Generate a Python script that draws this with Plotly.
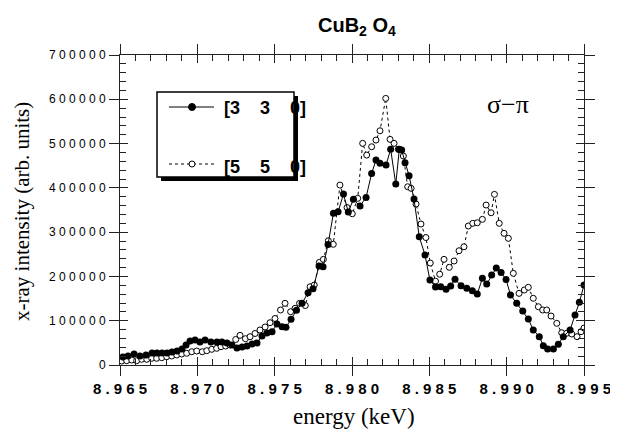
import plotly.graph_objects as go

# ---- data ----
energy_330 = [8.96519, 8.96552, 8.96591, 8.96629, 8.96668, 8.96707, 8.96739, 8.96772, 8.96804, 8.96836,
              8.96869, 8.96901, 8.96927, 8.96953, 8.96985, 8.97017, 8.97050, 8.97088, 8.97127, 8.97159,
              8.97192, 8.97224, 8.97256, 8.97289, 8.97321, 8.97354, 8.97386, 8.97418, 8.97450, 8.97483,
              8.97515, 8.97548, 8.97573, 8.97606, 8.97641, 8.97677, 8.97716, 8.97748, 8.97787, 8.97813,
              8.97845, 8.97880, 8.97910, 8.97945, 8.97976, 8.98009, 8.98052, 8.98091, 8.98127, 8.98155,
              8.98181, 8.98220, 8.98250, 8.98283, 8.98306, 8.98321, 8.98343, 8.98369, 8.98401, 8.98435,
              8.98472, 8.98504, 8.98540, 8.98574, 8.98608, 8.98638, 8.98666, 8.98705, 8.98742, 8.98778,
              8.98810, 8.98843, 8.98871, 8.98903, 8.98933, 8.98964, 8.98996, 8.99025, 8.99065, 8.99104,
              8.99140, 8.99172, 8.99211, 8.99237, 8.99265, 8.99302, 8.99334, 8.99366, 8.99410, 8.99442,
              8.99470, 8.99500]
intensity_330 = [18000, 20300, 24800, 20300, 22600, 27100, 27100, 27100, 27100, 29300,
                 31600, 36100, 45100, 54200, 56400, 51900, 56400, 51900, 51900, 51900,
                 49700, 45100, 38400, 40600, 42900, 47400, 49700, 65500, 72200, 75200,
                 92500, 86500, 85100, 103200, 123500, 139300, 163200, 172200, 223500, 221900,
                 272000, 342700, 346000, 386000, 345400, 374000, 359000, 378500, 432700, 462700,
                 455300, 451500, 486900, 408600, 486900, 485300, 456700, 427300, 374700, 289600,
                 248300, 191900, 176100, 176700, 170900, 178300, 193500, 179000, 173100, 167700,
                 160300, 195700, 182800, 203200, 219000, 208800, 193000, 158000, 139300, 121900,
                 103800, 79000, 63900, 43600, 36100, 36100, 46700, 63900, 79000, 112900,
                 141500, 180600]

energy_550 = [8.96511, 8.96543, 8.96576, 8.96608, 8.96640, 8.96673, 8.96705, 8.96737, 8.96770, 8.96802,
              8.96834, 8.96867, 8.96899, 8.96931, 8.96964, 8.96996, 8.97032, 8.97061, 8.97093, 8.97125,
              8.97153, 8.97183, 8.97211, 8.97248, 8.97276, 8.97311, 8.97341, 8.97373, 8.97405, 8.97438,
              8.97470, 8.97502, 8.97538, 8.97567, 8.97603, 8.97632, 8.97661, 8.97698, 8.97729, 8.97756,
              8.97789, 8.97815, 8.97847, 8.97879, 8.97922, 8.97968, 8.98002, 8.98037, 8.98069, 8.98095,
              8.98127, 8.98155, 8.98181, 8.98218, 8.98246, 8.98272, 8.98299, 8.98332, 8.98360, 8.98382,
              8.98414, 8.98446, 8.98478, 8.98506, 8.98540, 8.98567, 8.98595, 8.98629, 8.98660, 8.98692,
              8.98724, 8.98752, 8.98781, 8.98810, 8.98843, 8.98867, 8.98899, 8.98921, 8.98952, 8.98983,
              8.99011, 8.99043, 8.99080, 8.99114, 8.99140, 8.99172, 8.99205, 8.99233, 8.99259, 8.99287,
              8.99324, 8.99356, 8.99388, 8.99421, 8.99455, 8.99481, 8.99500]
intensity_550 = [9000, 9700, 11300, 9700, 12900, 12900, 15100, 15100, 16500, 18700,
                 20300, 22600, 24800, 26400, 30000, 31600, 30000, 32300, 35400, 37700,
                 41300, 42900, 45100, 57600, 67000, 59400, 63900, 71100, 79000, 85800,
                 95500, 105000, 124200, 139300, 120300, 128000, 139300, 134300, 176700, 180600,
                 231800, 238600, 280600, 272500, 406300, 355500, 341500, 376300, 500400, 474000,
                 492800, 507900, 528900, 602000, 509500, 500400, 486900, 471800, 402500, 398900,
                 363400, 318300, 287800, 230200, 189200, 205000, 238600, 220500, 234800, 258000,
                 267000, 313800, 319900, 321200, 328900, 361200, 343800, 385300, 319900, 297300,
                 286000, 207000, 161800, 169300, 175400, 150600, 131600, 124200, 124200, 110600,
                 94100, 72900, 71600, 70000, 63900, 75200, 83500]

x_ticks = [8.965, 8.970, 8.975, 8.980, 8.985, 8.990, 8.995]
y_ticks = [0, 100000, 200000, 300000, 400000, 500000, 600000, 700000]
x_ticktext = [" ".join(f"{v:.3f}") for v in x_ticks]
y_ticktext = [" ".join(str(v)) for v in y_ticks]
legend_labels = ["[3\u00a0\u00a0\u00a0\u00a03\u00a0\u00a0\u00a0\u00a00]",
                 "[5\u00a0\u00a0\u00a0\u00a05\u00a0\u00a0\u00a0\u00a00]"]

# ---- figure geometry (page places the figure 8 px in from the top-left) ----
OFF = 8
W, H = 618 - OFF, 432 - OFF
L, R, T, B = 120, 584, 55, 365   # plot frame in screen pixels


def px(xp):
    return (xp - L) / (R - L)


def py(yp):
    return (B - yp) / (B - T)


fig = go.Figure()
fig.add_trace(go.Scatter(x=energy_550, y=intensity_550, mode="lines+markers",
                         line=dict(color="black", width=1, dash="dot"),
                         marker=dict(symbol="circle", size=6, color="white",
                                     line=dict(color="black", width=1)),
                         showlegend=False))
fig.add_trace(go.Scatter(x=energy_330, y=intensity_330, mode="lines+markers",
                         line=dict(color="black", width=1),
                         marker=dict(symbol="circle", size=7, color="black"),
                         showlegend=False))
# empty trace to activate the overlay axes carrying inward ticks
fig.add_trace(go.Scatter(x=[None], y=[None], xaxis="x2", yaxis="y2", showlegend=False,
                         mode="markers"))

axis_col = "#222"
xr = [8.965, 8.995]
yr = [0, 700000]

fig.update_layout(
    width=W, height=H,
    margin=dict(l=L - OFF, r=618 - R, t=T - OFF, b=432 - B, autoexpand=False),
    paper_bgcolor="white", plot_bgcolor="white",
    showlegend=False,
    xaxis=dict(range=xr, tickvals=x_ticks, ticktext=x_ticktext, ticks="outside", ticklen=10,
               tickwidth=1, tickcolor=axis_col, showline=True, linecolor=axis_col, linewidth=1,
               mirror="ticks", showgrid=False, zeroline=False, ticklabelstandoff=0,
               tickfont=dict(family="Arial, Liberation Sans", size=15, color="black", weight="bold")),
    yaxis=dict(range=yr, tickvals=y_ticks, ticktext=y_ticktext, ticks="outside", ticklen=10,
               tickwidth=1, tickcolor=axis_col, showline=True, linecolor=axis_col, linewidth=1,
               mirror="ticks", showgrid=False, zeroline=False, ticklabelstandoff=1,
               tickfont=dict(family="Arial, Liberation Sans", size=12, color="black")),
    xaxis2=dict(range=xr, overlaying="x", anchor="y2", side="bottom", tickvals=x_ticks,
                ticks="inside", ticklen=8, tickwidth=1, tickcolor=axis_col, mirror="ticks",
                showline=False, showticklabels=False, showgrid=False, zeroline=False,
                minor=dict(dtick=0.001, tick0=8.965, ticks="inside", ticklen=6, tickwidth=1,
                           tickcolor=axis_col, showgrid=False)),
    yaxis2=dict(range=yr, overlaying="y", anchor="x2", side="left", tickvals=y_ticks,
                ticks="inside", ticklen=8, tickwidth=1, tickcolor=axis_col, mirror="ticks",
                showline=False, showticklabels=False, showgrid=False, zeroline=False,
                minor=dict(dtick=20000, tick0=0, ticks="inside", ticklen=6, tickwidth=1,
                           tickcolor=axis_col, showgrid=False)),
)

annotations = [
    dict(text="<b>CuB<sub>2</sub> O<sub>4</sub></b>", x=px(357), y=py(26), xref="paper", yref="paper",
         showarrow=False, xanchor="center", yanchor="middle",
         font=dict(family="Arial, Liberation Sans", size=20, color="black")),
    dict(text="x-ray intensity (arb. units)", x=px(22), y=py(212), xref="paper", yref="paper",
         showarrow=False, xanchor="center", yanchor="middle", textangle=-90,
         font=dict(family="Times New Roman, Liberation Serif", size=21, color="black")),
    dict(text="energy (keV)", x=px(354), y=py(416), xref="paper", yref="paper",
         showarrow=False, xanchor="center", yanchor="middle",
         font=dict(family="Times New Roman, Liberation Serif", size=23, color="black")),
    dict(text="σ\u2212π", x=px(508), y=py(104), xref="paper", yref="paper",
         showarrow=False, xanchor="center", yanchor="middle",
         font=dict(family="Times New Roman, Liberation Serif", size=26, color="black")),
    dict(text="<b>" + legend_labels[0] + "</b>", x=px(222), y=py(108), xref="paper", yref="paper",
         showarrow=False, xanchor="left", yanchor="middle",
         font=dict(family="Arial, Liberation Sans", size=18, color="black")),
    dict(text="<b>" + legend_labels[1] + "</b>", x=px(222), y=py(167), xref="paper", yref="paper",
         showarrow=False, xanchor="left", yanchor="middle",
         font=dict(family="Arial, Liberation Sans", size=18, color="black")),
]
fig.update_layout(annotations=annotations)

shapes = [
    # legend shadow
    dict(type="rect", xref="paper", yref="paper", x0=px(161), x1=px(298), y0=py(181), y1=py(96),
         fillcolor="black", line=dict(width=0), layer="above"),
    # legend box
    dict(type="rect", xref="paper", yref="paper", x0=px(157), x1=px(294), y0=py(177), y1=py(92),
         fillcolor="white", line=dict(color="black", width=1.5), layer="above"),
    # legend samples
    dict(type="line", xref="paper", yref="paper", x0=px(169), x1=px(214), y0=py(107), y1=py(107),
         line=dict(color="black", width=1), layer="above"),
    dict(type="circle", xref="paper", yref="paper", x0=px(188.5), x1=px(195.5), y0=py(110.5), y1=py(103.5),
         fillcolor="black", line=dict(color="black", width=1), layer="above"),
    dict(type="line", xref="paper", yref="paper", x0=px(169), x1=px(214), y0=py(164), y1=py(164),
         line=dict(color="black", width=1, dash="dot"), layer="above"),
    dict(type="circle", xref="paper", yref="paper", x0=px(189), x1=px(195), y0=py(167), y1=py(161),
         fillcolor="white", line=dict(color="black", width=1), layer="above"),
]
fig.update_layout(shapes=shapes)

fig.write_html("out.html")
